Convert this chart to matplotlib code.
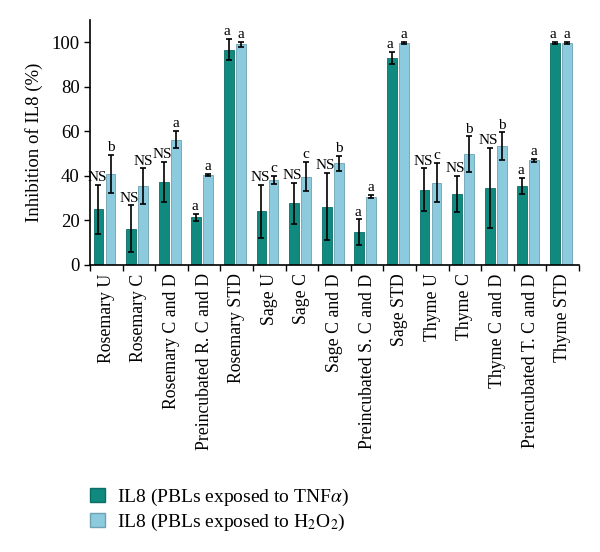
import numpy as np
import matplotlib
matplotlib.use('Agg')
import matplotlib.pyplot as plt
from matplotlib.patches import Patch

plt.rcParams['font.family'] = ['Liberation Serif', 'DejaVu Serif']
plt.rcParams['mathtext.fontset'] = 'stix'

# --- data ---
categories = ['Rosemary U', 'Rosemary C', 'Rosemary C and D', 'Preincubated R. C and D',
              'Rosemary STD', 'Sage U', 'Sage C', 'Sage C and D', 'Preincubated S. C and D',
              'Sage STD', 'Thyme U', 'Thyme C', 'Thyme C and D', 'Preincubated T. C and D',
              'Thyme STD']
tnf_values = [25, 16.2, 37.3, 21.4, 96.6, 24.1, 27.7, 26.2, 14.7, 92.9, 33.7, 31.9, 34.5, 35.5, 99.6]
tnf_errors = [11, 10.5, 9, 1.6, 4.8, 12, 9.3, 15, 5.8, 2.7, 9.7, 8, 18, 3.7, 0.5]
h2o2_values = [41, 35.4, 56.3, 40.4, 99, 38.2, 39.7, 45.7, 30.7, 99.6, 37, 49.7, 53.2, 46.9, 99.6]
h2o2_errors = [8.5, 8, 4, 0.5, 1, 1.8, 6.5, 3.4, 0.8, 0.5, 8.7, 8, 6.3, 0.7, 0.5]
tnf_letters = ['NS', 'NS', 'NS', 'a', 'a', 'NS', 'NS', 'NS', 'a', 'a', 'NS', 'NS', 'NS', 'a', 'a']
h2o2_letters = ['b', 'NS', 'a', 'a', 'a', 'c', 'c', 'b', 'a', 'a', 'c', 'b', 'b', 'a', 'a']

teal = '#10897f'
light = '#8ccbdd'

fig = plt.figure(figsize=(6, 5.52), dpi=100)
ax = fig.add_axes([0.15, 0.52, 0.815, 0.444])

x = np.arange(len(categories))
w = 0.3
x_tnf = x + 0.26
x_h2 = x + 0.63

ax.bar(x_tnf, tnf_values, width=w, color=teal, edgecolor='#0b6f67', linewidth=0.6)
ax.bar(x_h2, h2o2_values, width=w, color=light, edgecolor='#6ea2b2', linewidth=0.6)
ax.errorbar(x_tnf, tnf_values, yerr=tnf_errors, fmt='none', ecolor='black',
            elinewidth=1.2, capsize=2.2, capthick=1.2)
ax.errorbar(x_h2, h2o2_values, yerr=h2o2_errors, fmt='none', ecolor='black',
            elinewidth=1.2, capsize=2.2, capthick=1.2)

# significance letters above the error bars
for i in range(len(categories)):
    ax.text(x_tnf[i] - 0.05, tnf_values[i] + tnf_errors[i] + 0.3, tnf_letters[i],
            ha='center', va='bottom', fontsize=11)
    ax.text(x_h2[i], h2o2_values[i] + h2o2_errors[i] + 0.3, h2o2_letters[i],
            ha='center', va='bottom', fontsize=11)

ax.set_xlim(0, len(categories))
ax.set_ylim(0, 110)
ax.set_yticks([0, 20, 40, 60, 80, 100])
ax.set_ylabel('Inhibition of IL8 (%)', fontsize=13.5, labelpad=6)
ax.tick_params(axis='y', labelsize=13.5, direction='out', length=4, width=1)

ax.set_xticks(np.arange(len(categories) + 1))
ax.set_xticklabels([])
ax.tick_params(axis='x', which='major', direction='out', length=4, width=1)
ax.set_xticks(x + 0.5, minor=True)
ax.set_xticklabels(categories, minor=True, rotation=90, fontsize=12.8, va='top', ha='center')
ax.tick_params(axis='x', which='minor', length=0, pad=6)

ax.spines['top'].set_visible(False)
ax.spines['right'].set_visible(False)
ax.spines['left'].set_linewidth(1.2)
ax.spines['bottom'].set_linewidth(1.2)

handles = [Patch(facecolor=teal, edgecolor='#0b6f67'),
           Patch(facecolor=light, edgecolor='#6ea2b2')]
labels = [r'IL8 (PBLs exposed to TNF$\alpha$)', r'IL8 (PBLs exposed to H$_2$O$_2$)']
fig.legend(handles, labels, loc='upper left', bbox_to_anchor=(0.12, 0.15),
           frameon=False, fontsize=14, handlelength=0.8, handleheight=0.8,
           handletextpad=0.6, labelspacing=0.2)

fig.savefig('out.png', dpi=100)
